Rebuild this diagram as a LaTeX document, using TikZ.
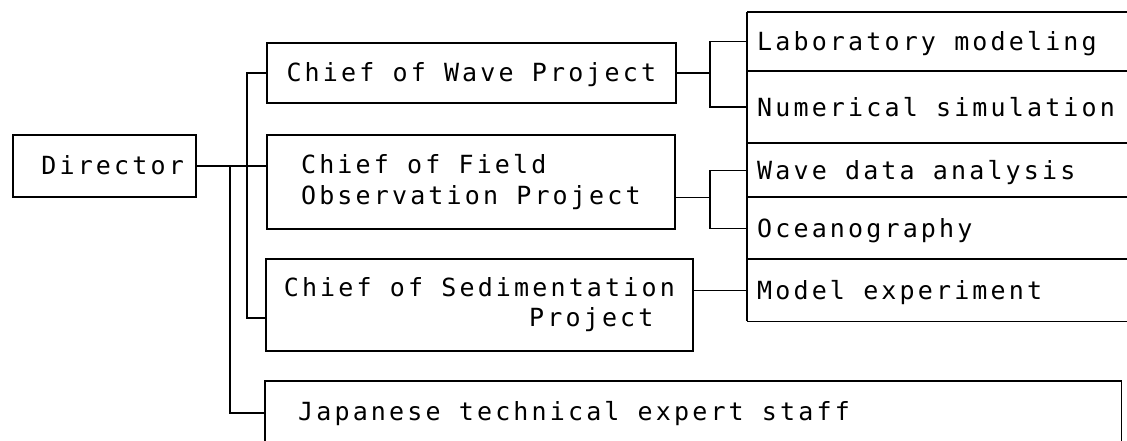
\documentclass[tikz,border=0pt]{standalone}
\usepackage{fontspec}
\newfontfamily\printfont[LetterSpace=12.6]{DejaVu Sans Mono}

\begin{document}
\begin{tikzpicture}[
    x=1pt, y=-1pt,
    every node/.style={font=\printfont\fontsize{25}{30.5}\selectfont, inner sep=0pt},
    box/.style={draw, line width=1.7pt, anchor=north west, inner xsep=8pt},
    onerow/.style={text height=18pt, text depth=0pt},
    row/.style={onerow, anchor=north west, text width=370pt, inner xsep=10pt, align=flush left},
    link/.style={line width=1.4pt},
    edge/.style={line width=1.7pt},
]
    \useasboundingbox (0,0) rectangle (1127,441);

    % Director and the project chiefs.
    \node[box, onerow, minimum height=62pt, text width=159pt, inner xsep=12pt, align=flush right]
        (director) at (12,134) {Director};
    \node[box, onerow, minimum width=409pt, minimum height=60pt]
        (wave) at (266,42) {Chief of Wave Project};
    \node[box, minimum width=408pt, minimum height=94pt, align=left]
        (field) at (266,134) {Chief of Field\\Observation Project};
    \node[box, minimum width=427pt, minimum height=92pt, align=left]
        (sedim) at (265,258) {Chief of Sedimentation\\\phantom{Chief of Sedim}Project};

    % Staff box, open at the bottom.
    \node[onerow, anchor=north west, minimum height=60pt, text width=790pt, inner xsep=33pt, align=flush left]
        (staff) at (265,381) {Japanese technical expert staff};
    \draw[edge] (staff.south west) -- (staff.north west) -- (staff.north east) -- (staff.south east);

    % Work sections.
    \node[row, minimum height=59pt] (lab)      at (747,12)  {Laboratory modeling};
    \node[row, minimum height=72pt] (numsim)   at (747,71)  {Numerical simulation};
    \node[row, minimum height=54pt] (wavedata) at (747,143) {Wave data analysis};
    \node[row, minimum height=62pt] (ocean)    at (747,197) {Oceanography};
    \node[row, minimum height=62pt] (model)    at (747,259) {Model experiment};
    \draw[edge] (lab.north west) -- (model.south west);
    \foreach \n in {lab,numsim,wavedata,ocean,model} {
        \draw[edge] (\n.north west) -- (\n.north east);
    }
    \draw[edge] (model.south west) -- (model.south east);

    % Joints.
    \coordinate (jdir)    at (director.east -| 230,0);
    \coordinate (jsub)    at (director.east -| 247,0);
    \coordinate (sedin)   at (sedim.west |- 0,318);
    \coordinate (staffin) at (staff.west |- 0,413);
    \coordinate (brace)   at (710,0);

    % Links on the left.
    \draw[link] (director.east) -- (director.east -| field.west);
    \draw[link] (wave.west) -| (sedin -| jsub) -- (sedin);
    \draw[link] (jdir) |- (staffin);

    % Links on the right.
    \draw[link] (wave.east) -- (wave.east -| brace);
    \draw[link] (lab.west) -- (lab.west -| brace) -- (numsim.west -| brace) -- (numsim.west);
    \draw[link] (field.east |- wavedata.south) -- (wavedata.south -| brace);
    \draw[link] (wavedata.west) -- (wavedata.west -| brace) -- (ocean.west -| brace) -- (ocean.west);
    \draw[link] (sedim.east |- model.west) -- (model.west);
\end{tikzpicture}
\end{document}
